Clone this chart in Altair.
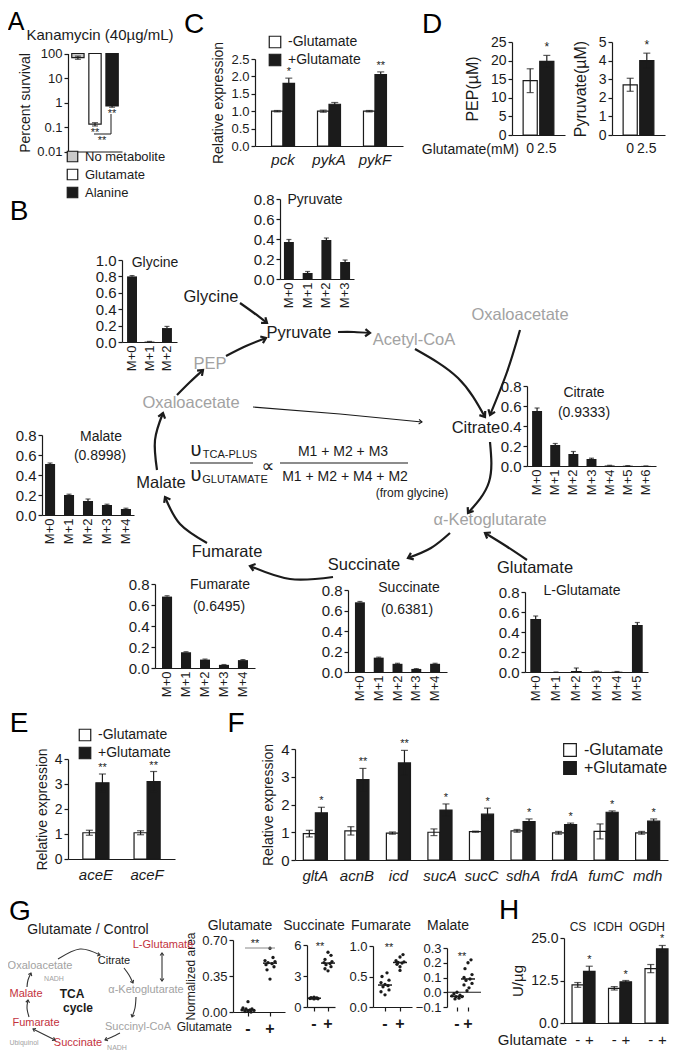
import altair as alt
import numpy as np
import pandas as pd

W, H = 661, 1044
FONT = "Liberation Sans, Arial, Helvetica, DejaVu Sans, sans-serif"
INK = "#1b1b1b"
GREY = "#a2a2a2"
RED = "#c3323d"
LIGHT = "#c9c9c9"
COND = ["-Glutamate", "+Glutamate"]

# ---------------- data ----------------
# A: survival under kanamycin
a_groups = ["No metabolite", "Glutamate", "Alanine"]
a_survival = [68.0, 0.13, 0.72]
a_sem = [10.0, 0.02, 0.08]
a_sig = ["", "**", "**"]

# C: expression
c_genes = ["pck", "pykA", "pykF"]
c_minus = [1.0, 1.0, 1.0]
c_minus_sem = [0.02, 0.03, 0.02]
c_plus = [1.8, 1.2, 2.05]
c_plus_sem = [0.15, 0.05, 0.08]
c_sig = ["*", "", "**"]

# D: metabolites
d_glu = ["0", "2.5"]
d_pep = [14.6, 19.8]
d_pep_sem = [3.2, 1.6]
d_pyr = [2.7, 4.0]
d_pyr_sem = [0.35, 0.4]
d_sig = ["", "*"]

# B: isotopologue fractions
iso = ["M+0", "M+1", "M+2", "M+3", "M+4", "M+5", "M+6"]
b_glycine = [0.80, 0.005, 0.17]
b_glycine_sem = [0.01, 0.002, 0.02]
b_pyruvate = [0.37, 0.06, 0.39, 0.17]
b_pyruvate_sem = [0.025, 0.015, 0.02, 0.02]
b_citrate = [0.55, 0.21, 0.12, 0.07, 0.005, 0.003, 0.001]
b_citrate_sem = [0.03, 0.015, 0.025, 0.008, 0.002, 0.001, 0.0]
b_malate = [0.51, 0.20, 0.14, 0.10, 0.06]
b_malate_sem = [0.01, 0.008, 0.02, 0.008, 0.008]
b_fumarate = [0.68, 0.15, 0.08, 0.03, 0.075]
b_fumarate_sem = [0.008, 0.005, 0.005, 0.003, 0.005]
b_succinate = [0.68, 0.14, 0.08, 0.03, 0.08]
b_succinate_sem = [0.008, 0.005, 0.005, 0.003, 0.005]
b_lglu = [0.53, 0.0, 0.01, 0.005, 0.003, 0.47]
b_lglu_sem = [0.03, 0.0, 0.03, 0.003, 0.002, 0.025]

# E
e_genes = ["aceE", "aceF"]
e_minus = [1.05, 1.05]
e_minus_sem = [0.1, 0.08]
e_plus = [3.05, 3.1]
e_plus_sem = [0.35, 0.4]
e_sig = ["**", "**"]

# F
f_genes = ["gltA", "acnB", "icd", "sucA", "sucC", "sdhA", "frdA", "fumC", "mdh"]
f_minus = [0.95, 1.05, 0.97, 1.0, 1.02, 1.05, 0.98, 1.03, 0.98]
f_minus_sem = [0.12, 0.15, 0.04, 0.12, 0.02, 0.05, 0.05, 0.27, 0.05]
f_plus = [1.7, 2.9, 3.5, 1.8, 1.65, 1.38, 1.28, 1.72, 1.4]
f_plus_sem = [0.2, 0.4, 0.45, 0.22, 0.22, 0.1, 0.05, 0.05, 0.08]
f_sig = ["*", "**", "**", "*", "*", "*", "*", "*", "*"]

# G: normalized areas (dot plots), with beeswarm spread (px)
g_glu_minus = [0.10, 0.04, 0.03, 0.03, 0.02, 0.02, 0.015, 0.01, 0.005, 0.0]
g_glu_minus_off = [0, -5, 4, -2, 2, -6, 6, 0, -3, 3]
g_glu_plus = [0.62, 0.53, 0.50, 0.49, 0.48, 0.47, 0.46, 0.44, 0.41, 0.32]
g_glu_plus_off = [0, 3, -5, 5, -2, 2, -4, 4, -3, 0]
g_suc_minus = [0.95, 0.9, 0.88, 0.85, 0.85, 0.82, 0.8, 0.78]
g_suc_minus_off = [0, -3, 3, -2, 2, -4, 4, 0]
g_suc_plus = [5.3, 5.0, 4.6, 4.4, 4.3, 4.2, 4.1, 3.9, 3.7, 3.5]
g_suc_plus_off = [0, 3, -3, 4, -4, 2, -2, 3, -3, 0]
g_fum_minus = [0.56, 0.5, 0.44, 0.4, 0.37, 0.35, 0.33, 0.28, 0.25, 0.2]
g_fum_minus_off = [2, -3, 4, -4, 0, 3, -2, 4, -4, 0]
g_fum_plus = [0.86, 0.82, 0.76, 0.74, 0.73, 0.72, 0.7, 0.66, 0.6]
g_fum_plus_off = [3, 0, -4, 4, -2, 2, -3, 0, 0]
g_mal_minus = [0.0, -0.01, -0.02, -0.025, -0.03, -0.03, -0.04, -0.045]
g_mal_minus_off = [0, -3, 3, -5, 5, -1, 2, -2]
g_mal_plus = [0.22, 0.2, 0.16, 0.12, 0.1, 0.09, 0.08, 0.06, 0.05, 0.03, 0.01]
g_mal_plus_off = [3, 0, -3, 4, -4, 2, -2, 4, -4, 1, -1]

# H: enzyme activity
h_enz = ["CS", "ICDH", "OGDH"]
h_minus = [11.2, 10.2, 16.0]
h_minus_sem = [0.7, 0.5, 1.2]
h_plus = [15.2, 12.1, 21.8]
h_plus_sem = [1.5, 0.4, 1.0]
h_sig = ["*", "*", "*"]


# ---------------- helpers ----------------
def X(v):
    return v - 8


def Y(v):
    return v - 8


def ax_left(xpix, values, fmt, size, title=None, tsize=14, tpad=5):
    kw = dict(orient="left", offset=-X(xpix), values=values, labelFontSize=size,
              labelFont=FONT, labelColor=INK, tickColor=INK, domainColor=INK,
              tickSize=4, tickWidth=1.2, domainWidth=1.2, grid=False, labelPadding=2)
    if fmt:
        kw["format"] = fmt
    if title:
        kw.update(title=title, titleFont=FONT, titleFontSize=tsize, titleFontWeight="normal",
                  titleColor=INK, titlePadding=tpad)
    else:
        kw["title"] = None
    return alt.Axis(**kw)


def ax_bottom(ypix, size=13, labels=True, ticks=False, angle=0, italic=False, pad=3,
              bold=False, domain=True):
    kw = dict(orient="bottom", offset=Y(ypix) - H, labels=labels, ticks=ticks, title=None,
              grid=False, labelFont=FONT, labelFontSize=size, labelColor=INK, domainColor=INK,
              domainWidth=1.2, tickColor=INK, tickSize=4, tickWidth=1.2, labelPadding=pad,
              labelAngle=angle, domain=domain)
    if italic:
        kw["labelFontStyle"] = "italic"
    if bold:
        kw["labelFontWeight"] = "bold"
    return alt.Axis(**kw)


def bar_panel(cats, vals, sems, ax, xe, pi, po, y0, vtop, ptop, ticks, fmt, tick_size, xaxis,
              colors=None, both=False, sig=None, ytitle=None, tsize=14, tpad=5, cap=6):
    df = pd.DataFrame({"cat": cats, "val": vals, "sem": sems})
    df["sig"] = sig if sig is not None else [""] * len(cats)
    base = alt.Chart(df).transform_calculate(hi="datum.val + datum.sem", lo="datum.val - datum.sem")
    xs = alt.Scale(domain=cats, range=[X(ax), X(xe)], paddingInner=pi, paddingOuter=po)
    ys = alt.Scale(domain=[0, vtop], range=[Y(y0), Y(ptop)], nice=False, zero=False)
    ya = ax_left(ax, ticks, fmt, tick_size, ytitle, tsize, tpad)
    xenc = alt.X("cat:N", scale=xs, axis=xaxis)

    def yenc(f):
        return alt.Y(f"{f}:Q", scale=ys, axis=ya)

    if colors:
        bars = base.mark_bar(stroke=INK, strokeWidth=1.2).encode(
            x=xenc, y=yenc("val"),
            color=alt.Color("cat:N", scale=alt.Scale(domain=cats, range=colors), legend=None))
    else:
        bars = base.mark_bar(color=INK).encode(x=xenc, y=yenc("val"))
    low = "lo" if both else "val"
    layers = [bars,
              base.mark_rule(color=INK, strokeWidth=1.2).encode(x=xenc, y=yenc(low), y2="hi:Q"),
              base.mark_tick(color=INK, size=cap, thickness=1.2).encode(x=xenc, y=yenc("hi"))]
    if both:
        layers.append(base.mark_tick(color=INK, size=cap, thickness=1.2).encode(x=xenc, y=yenc("lo")))
    if sig is not None:
        layers.append(base.mark_text(font=FONT, fontSize=12, color=INK, baseline="bottom", dy=-1).encode(
            x=xenc, y=yenc("hi"), text="sig:N"))
    return alt.layer(*layers)


def grouped(cats, neg, neg_sem, pos, pos_sem, sig, ax, xe, pi, po, y0, vtop, ptop, ticks, fmt,
            tick_size, xaxis, ytitle=None, tsize=14, tpad=5, legend=None, align=None,
            sign_y=None, cap=7):
    rows = []
    for i, c in enumerate(cats):
        rows.append({"cat": c, "cond": COND[0], "val": neg[i], "sem": neg_sem[i], "sig": "", "sign": "-"})
        rows.append({"cat": c, "cond": COND[1], "val": pos[i], "sem": pos_sem[i], "sig": sig[i], "sign": "+"})
    df = pd.DataFrame(rows)
    base = alt.Chart(df).transform_calculate(hi="datum.val + datum.sem", lo="datum.val - datum.sem")
    sk = dict(domain=cats, range=[X(ax), X(xe)], paddingInner=pi, paddingOuter=po)
    if align is not None:
        sk["align"] = align
    xs = alt.Scale(**sk)
    ys = alt.Scale(domain=[0, vtop], range=[Y(y0), Y(ptop)], nice=False, zero=False)
    ya = ax_left(ax, ticks, fmt, tick_size, ytitle, tsize, tpad)
    xenc = alt.X("cat:N", scale=xs, axis=xaxis)
    xo = alt.XOffset("cond:N", scale=alt.Scale(domain=COND, paddingInner=0, paddingOuter=0))

    def yenc(f):
        return alt.Y(f"{f}:Q", scale=ys, axis=ya)

    col = alt.Color("cond:N", scale=alt.Scale(domain=COND, range=["white", INK]), legend=legend)
    layers = [
        base.mark_bar(stroke=INK, strokeWidth=1.2).encode(x=xenc, xOffset=xo, y=yenc("val"), color=col),
        base.mark_rule(color=INK, strokeWidth=1.2).encode(x=xenc, xOffset=xo, y=yenc("lo"), y2="hi:Q"),
        base.mark_tick(color=INK, size=cap, thickness=1.2).encode(x=xenc, xOffset=xo, y=yenc("hi")),
        base.mark_tick(color=INK, size=cap, thickness=1.2).encode(x=xenc, xOffset=xo, y=yenc("lo")),
        base.mark_text(font=FONT, fontSize=11, color=INK, baseline="bottom", dy=-1).encode(
            x=xenc, xOffset=xo, y=yenc("hi"), text="sig:N"),
    ]
    if sign_y is not None:
        layers.append(base.mark_text(font=FONT, fontSize=15, color=INK).encode(
            x=xenc, xOffset=xo, y=alt.value(Y(sign_y)), text="sign:N"))
    return alt.layer(*layers)


def legend_at(lx, ly, ssize=144, fsize=14, rowpad=0):
    return alt.Legend(orient="none", legendX=X(lx), legendY=Y(ly), title=None, symbolType="square",
                      symbolSize=ssize, symbolStrokeColor=INK, symbolStrokeWidth=1.2, symbolOpacity=1,
                      labelFont=FONT, labelFontSize=fsize, labelColor=INK, rowPadding=rowpad,
                      padding=0, labelOffset=6)


def dot_panel(minus, minus_off, plus, plus_off, ax, pm, pp, y0, dom, ptop, ticks, fmt,
              ytitle=None, xdomain=True, zero_line=False):
    step = pp - pm
    o = (pm - ax) / step
    xe = ax + step * (1 + 2 * o)
    df = pd.DataFrame({"grp": ["-"] * len(minus) + ["+"] * len(plus),
                       "val": list(minus) + list(plus),
                       "off": list(minus_off) + list(plus_off)})
    base = alt.Chart(df)
    xs = alt.Scale(domain=["-", "+"], range=[X(ax), X(xe)], paddingInner=1, paddingOuter=o)
    ys = alt.Scale(domain=dom, range=[Y(y0), Y(ptop)], nice=False, zero=False)
    ya = ax_left(ax, ticks, fmt, 13, ytitle, 12, 4)
    xa = ax_bottom(y0, size=16, labels=True, ticks=True, pad=4, bold=True, domain=xdomain)
    xenc = alt.X("grp:N", scale=xs, axis=xa)
    layers = []
    if zero_line:
        layers.append(alt.Chart(pd.DataFrame({"z": [0]})).mark_rule(color=INK, strokeWidth=1.2).encode(
            y=alt.Y("z:Q", scale=ys, axis=ya), x=alt.value(X(ax)), x2=alt.value(X(xe + 3))))
    layers += [
        base.mark_circle(size=11, color=INK, opacity=1).encode(
            x=xenc, xOffset=alt.XOffset("off:Q", scale=alt.Scale(domain=[-10, 10], range=[-10, 10])),
            y=alt.Y("val:Q", scale=ys, axis=ya)),
        base.mark_tick(size=14, thickness=1.5, color=INK).encode(
            x=xenc, y=alt.Y("median(val):Q", scale=ys, axis=ya)),
    ]
    return alt.layer(*layers)


# diagram coordinate system (reference pixel grid, mapped by scales)
DX = alt.X("x:Q", scale=alt.Scale(domain=[0, 677], range=[X(0), X(677)]), axis=None)
DY = alt.Y("y:Q", scale=alt.Scale(domain=[0, 1060], range=[Y(0), Y(1060)]), axis=None)
DX2 = alt.X2("x2:Q")
CHEV = "M-1,-0.75L0,0L-1,0.75"


def text_layer(items, align="center", weight="normal"):
    df = pd.DataFrame(items, columns=["t", "x", "y", "s", "c"])
    return alt.Chart(df).mark_text(font=FONT, align=align, baseline="middle", fontWeight=weight).encode(
        x=DX, y=DY, text="t:N", size=alt.Size("s:Q", scale=None), color=alt.Color("c:N", scale=None))


def arrows(paths, width, head, color, double=()):
    rows, heads = [], []
    for i, p in enumerate(paths):
        for j, (x, y) in enumerate(p):
            rows.append({"id": i, "o": j, "x": x, "y": y})
        (x1, y1), (x2, y2) = p[-2], p[-1]
        heads.append({"x": x2, "y": y2, "ang": float(np.degrees(np.arctan2(y2 - y1, x2 - x1)) % 360)})
        if i in double:
            (x1, y1), (x2, y2) = p[1], p[0]
            heads.append({"x": x2, "y": y2, "ang": float(np.degrees(np.arctan2(y2 - y1, x2 - x1)) % 360)})
    line = alt.Chart(pd.DataFrame(rows)).mark_line(interpolate="natural", strokeWidth=width, color=color).encode(
        x=DX, y=DY, detail="id:N", order="o:Q")
    hd = alt.Chart(pd.DataFrame(heads)).mark_point(shape=CHEV, filled=False, size=head, strokeWidth=width,
                                                  color=color, opacity=1).encode(
        x=DX, y=DY, angle=alt.Angle("ang:Q", scale=None))
    return [line, hd]


def hrules(items, width=1.2, color=INK):
    df = pd.DataFrame(items, columns=["x", "x2", "y"])
    return alt.Chart(df).mark_rule(strokeWidth=width, color=color).encode(x=DX, x2=DX2, y=DY)


# ---------------- panels ----------------
panels = []

# A
dfA = pd.DataFrame({"grp": a_groups, "val": a_survival, "sem": a_sem, "sig": a_sig})
baseA = alt.Chart(dfA).transform_calculate(hi="datum.val + datum.sem", lo="datum.val - datum.sem")
xsA = alt.Scale(domain=a_groups, range=[X(68), X(122)], paddingInner=0.28, paddingOuter=0.22)
ysA = alt.Scale(type="log", domain=[0.01, 100], range=[Y(151.5), Y(53.5)], nice=False)
yaA = ax_left(68, [0.01, 0.1, 1, 10, 100], "~g", 13, "Percent survival", 14, 4)
xaA = ax_bottom(151.5, labels=False, ticks=False)
xA = alt.X("grp:N", scale=xsA, axis=xaA)


def yA(f):
    return alt.Y(f"{f}:Q", scale=ysA, axis=yaA)


panels.append(alt.layer(
    baseA.mark_bar(stroke=INK, strokeWidth=1.2).encode(
        x=xA, y=yA("val"), y2=alt.datum(100),
        color=alt.Color("grp:N", scale=alt.Scale(domain=a_groups, range=[LIGHT, "white", INK]),
                        legend=legend_at(66, 150, 110, 13, 1))),
    baseA.mark_rule(color=INK, strokeWidth=1.2).encode(x=xA, y=yA("lo"), y2="hi:Q"),
    baseA.mark_tick(color=INK, size=6, thickness=1.2).encode(x=xA, y=yA("lo")),
    baseA.mark_tick(color=INK, size=6, thickness=1.2).encode(x=xA, y=yA("hi")),
    baseA.mark_text(font=FONT, fontSize=11, color=INK, baseline="top", dy=1).encode(
        x=xA, y=yA("lo"), text="sig:N"),
))

# C
panels.append(grouped(c_genes, c_minus, c_minus_sem, c_plus, c_plus_sem, c_sig,
                      255, 403, 0.5, 0.36, 146, 2.5, 59, [0, 0.5, 1.0, 1.5, 2.0, 2.5], ".1f", 13,
                      ax_bottom(146, size=15, italic=True, pad=6), ytitle="Relative expression",
                      legend=legend_at(268, 35, 132, 14, 0)))

# D
panels.append(bar_panel(d_glu, d_pep, d_pep_sem, 512, 565, 0.15, 0.67, 135, 25, 42,
                        [0, 5, 10, 15, 20, 25], "d", 14, ax_bottom(135, size=14, pad=6),
                        colors=["white", INK], both=True, sig=d_sig, ytitle="PEP(µM)", tsize=16, tpad=10,
                        cap=7))
panels.append(bar_panel(d_glu, d_pyr, d_pyr_sem, 612, 665, 0.15, 0.67, 135, 5, 42,
                        [0, 1, 2, 3, 4, 5], "d", 14, ax_bottom(135, size=14, pad=6),
                        colors=["white", INK], both=True, sig=d_sig, ytitle="Pyruvate(µM)", tsize=16,
                        tpad=10, cap=7))


# B mini charts
def mini(vals, sems, ax, xe, pi, po, y0, vtop, ptop, ticks):
    cats = iso[:len(vals)]
    return bar_panel(cats, vals, sems, ax, xe, pi, po, y0, vtop, ptop, ticks, ".1f", 15,
                     ax_bottom(y0, size=13, angle=270, pad=3), cap=5)


T08 = [0, 0.2, 0.4, 0.6, 0.8]
panels.append(mini(b_glycine, b_glycine_sem, 122, 177, 0.43, 0.29, 342, 1.0, 260, [0, 0.2, 0.4, 0.6, 0.8, 1.0]))
panels.append(mini(b_pyruvate, b_pyruvate_sem, 280, 354, 0.47, 0.21, 279, 0.8, 199, T08))
panels.append(mini(b_citrate, b_citrate_sem, 527, 656, 0.45, 0.28, 466, 0.8, 386, T08))
panels.append(mini(b_malate, b_malate_sem, 42, 134, 0.47, 0.16, 515, 0.8, 435, T08))
panels.append(mini(b_fumarate, b_fumarate_sem, 155, 255, 0.47, 0.37, 668, 0.8, 584, T08))
panels.append(mini(b_succinate, b_succinate_sem, 348, 447, 0.47, 0.37, 672, 0.8, 590, T08))
panels.append(mini(b_lglu, b_lglu_sem, 525, 648, 0.47, 0.26, 672, 0.8, 592, T08))

# E
panels.append(grouped(e_genes, e_minus, e_minus_sem, e_plus, e_plus_sem, e_sig,
                      68, 175, 0.49, 0.29, 859, 4, 759, [0, 1, 2, 3, 4], "d", 14,
                      ax_bottom(859, size=15, italic=True, pad=8), ytitle="Relative expression",
                      legend=legend_at(78, 728, 132, 14, 0)))

# F
panels.append(grouped(f_genes, f_minus, f_minus_sem, f_plus, f_plus_sem, f_sig,
                      295, 668, 0.42, 0.2, 860, 4, 749, [0, 1, 2, 3, 4], "d", 15,
                      ax_bottom(860, size=15, italic=True, pad=8), ytitle="Relative expression",
                      legend=legend_at(562, 742, 160, 16, 0)))

# G dot plots
panels.append(dot_panel(g_glu_minus, g_glu_minus_off, g_glu_plus, g_glu_plus_off, 233, 248, 270,
                        1012, [0, 0.7], 940, [0, 0.35, 0.7], ".2f", ytitle="Normalized area"))
panels.append(dot_panel(g_suc_minus, g_suc_minus_off, g_suc_plus, g_suc_plus_off, 307, 314, 328,
                        1007, [0, 6], 945, [0, 3, 6], "d"))
panels.append(dot_panel(g_fum_minus, g_fum_minus_off, g_fum_plus, g_fum_plus_off, 373, 385, 400,
                        1007, [0, 1], 946, [0, 0.5, 1.0], ".1f"))
panels.append(dot_panel(g_mal_minus, g_mal_minus_off, g_mal_plus, g_mal_plus_off, 447, 457, 468,
                        1007, [-0.1, 0.3], 948, [-0.1, 0.0, 0.1, 0.2, 0.3], ".1f", xdomain=False,
                        zero_line=True))

# H
panels.append(grouped(h_enz, h_minus, h_minus_sem, h_plus, h_plus_sem, h_sig,
                      564, 668, 0.37, 0.11, 1023, 25, 938, [0, 12.5, 25], ".1f", 14,
                      ax_bottom(1023, labels=False), ytitle="U/µg", tsize=15, align=1,
                      sign_y=1040))

# ---------------- annotations / pathway diagram ----------------
letters = [("A", 16, 22, 25, "black"), ("B", 19, 212, 28, "black"), ("C", 194, 25, 28, "black"),
           ("D", 432, 25, 28, "black"), ("E", 19, 724, 28, "black"), ("F", 236, 724, 28, "black"),
           ("G", 20, 912, 28, "black"), ("H", 509, 911, 28, "black")]

center_text = letters + [
    ("Kanamycin (40µg/mL)", 100, 35, 15, INK),
    ("**", 102, 141, 11, INK),
    # B pathway
    ("Glycine", 211, 297, 16.5, INK), ("Pyruvate", 299, 333, 16.5, INK),
    ("Acetyl-CoA", 414, 340, 16.5, GREY), ("PEP", 210, 364, 16.5, GREY),
    ("Oxaloacetate", 191, 403, 16.5, GREY), ("Oxaloacetate", 520, 315, 16.5, GREY),
    ("Citrate", 476, 428, 16.5, INK), ("α-Ketoglutarate", 490, 520, 16.5, GREY),
    ("Glutamate", 535, 568, 16.5, INK), ("Succinate", 364, 565, 16.5, INK),
    ("Fumarate", 227, 552, 16.5, INK), ("Malate", 161, 483, 16.5, INK),
    # B chart titles
    ("Glycine", 155, 263, 14, INK), ("Pyruvate", 315, 200, 14, INK),
    ("Citrate", 584, 393, 14, INK), ("(0.9333)", 584, 413, 14, INK),
    ("Malate", 101, 437, 14, INK), ("(0.8998)", 100, 456, 14, INK),
    ("Fumarate", 220, 585, 14, INK), ("(0.6495)", 219, 607, 14, INK),
    ("Succinate", 409, 588, 14, INK), ("(0.6381)", 407, 610, 14, INK),
    ("L-Glutamate", 582, 591, 14, INK),
    # formula
    ("υ", 196, 450, 20, INK), ("TCA-PLUS", 230, 455, 11, INK),
    ("υ", 196, 475, 20, INK), ("GLUTAMATE", 235, 480, 11, INK),
    ("∝", 268, 467, 18, INK), ("M1 + M2 + M3", 343, 452, 14, INK),
    ("M1 + M2 + M4 + M2", 345, 477, 14, INK), ("(from glycine)", 412, 493, 12, INK),
    # G diagram
    ("Glutamate / Control", 88, 930, 14, INK), ("L-Glutamate", 163, 945, 11, RED),
    ("Citrate", 114, 961, 11, INK), ("Oxaloacetate", 40, 966, 11, GREY),
    ("NADH", 54, 979, 7, GREY), ("α-Ketoglutarate", 146, 990, 11, GREY),
    ("Malate", 26, 994, 11, RED), ("Fumarate", 36, 1023, 11, RED),
    ("Succinyl-CoA", 138, 1027, 11, GREY), ("Ubiquinol", 24, 1043, 7, GREY),
    ("Succinate", 78, 1043, 11, RED), ("NADH", 117, 1048, 7, GREY),
    # G dot plot titles and stars
    ("Glutamate", 240, 926, 14, INK), ("Succinate", 314, 926, 14, INK),
    ("Fumarate", 381, 926, 14, INK), ("Malate", 448, 926, 14, INK),
    ("**", 255, 944, 11, INK), ("**", 320, 947, 11, INK), ("**", 389, 948, 11, INK),
    ("**", 462, 957, 11, INK),
    # H titles
    ("CS", 578, 927, 12, INK), ("ICDH", 608, 927, 12, INK), ("OGDH", 647, 927, 12, INK),
]
right_text = [("Glutamate(mM)", 519, 150, 14, INK), ("Glutamate", 232, 1027, 12, INK),
              ("Glutamate", 567, 1040, 15, INK)]
bold_text = [("TCA", 72, 994, 12, INK), ("cycle", 78, 1008, 12, INK)]

panels.append(text_layer(center_text))
panels.append(text_layer(right_text, align="right"))
panels.append(text_layer(bold_text, weight="bold"))

b_paths = [
    [(240, 303), (254, 313), (267, 323)],
    [(226, 356), (246, 346), (266, 338)],
    [(338, 332), (354, 332), (370, 333)],
    [(177, 395), (190, 382), (203, 370)],
    [(415, 349), (458, 378), (485, 417)],
    [(520, 330), (507, 372), (490, 415)],
    [(490, 442), (489, 482), (468, 513)],
    [(527, 560), (506, 546), (485, 533)],
    [(450, 533), (431, 548), (408, 558)],
    [(333, 577), (290, 579), (250, 566)],
    [(207, 543), (180, 524), (165, 497)],
    [(157, 470), (155, 440), (163, 413)],
]
panels += arrows(b_paths, 2.2, 90, INK)
panels += arrows([[(253, 407), (340, 414), (422, 422)]], 1.1, 40, INK)

g_paths = [
    [(58, 959), (80, 949), (100, 955)],
    [(124, 968), (129, 975), (133, 983)],
    [(136, 997), (135, 1008), (132, 1017)],
    [(120, 1033), (112, 1037), (105, 1040)],
    [(55, 1040), (45, 1035), (33, 1029)],
    [(29, 1017), (27, 1008), (28, 1000)],
    [(27, 987), (28, 980), (31, 973)],
    [(162, 953), (162, 966), (162, 981)],
]
panels += arrows(g_paths, 1.1, 25, "#333333", double=(4, 7))

panels.append(hrules([(190, 253, 463), (280, 408, 463)], 1.2))
panels.append(hrules([(94, 111, 134)], 1.0))
panels.append(alt.Chart(pd.DataFrame({"x": [111], "y": [114], "y2": [134]})).mark_rule(
    strokeWidth=1.0, color=INK).encode(x=DX, y=DY, y2=alt.Y2("y2:Q")))
panels.append(hrules([(245, 275, 948)], 1.0, "#888888"))

chart = alt.layer(*panels).resolve_scale(
    x="independent", y="independent", color="independent", xOffset="independent"
).properties(
    width=W, height=H, padding=0, autosize=alt.AutoSizeParams(type="none"), background="white"
).configure_view(stroke=None)

chart.save("out.html", embed_options={"renderer": "svg", "actions": False})
